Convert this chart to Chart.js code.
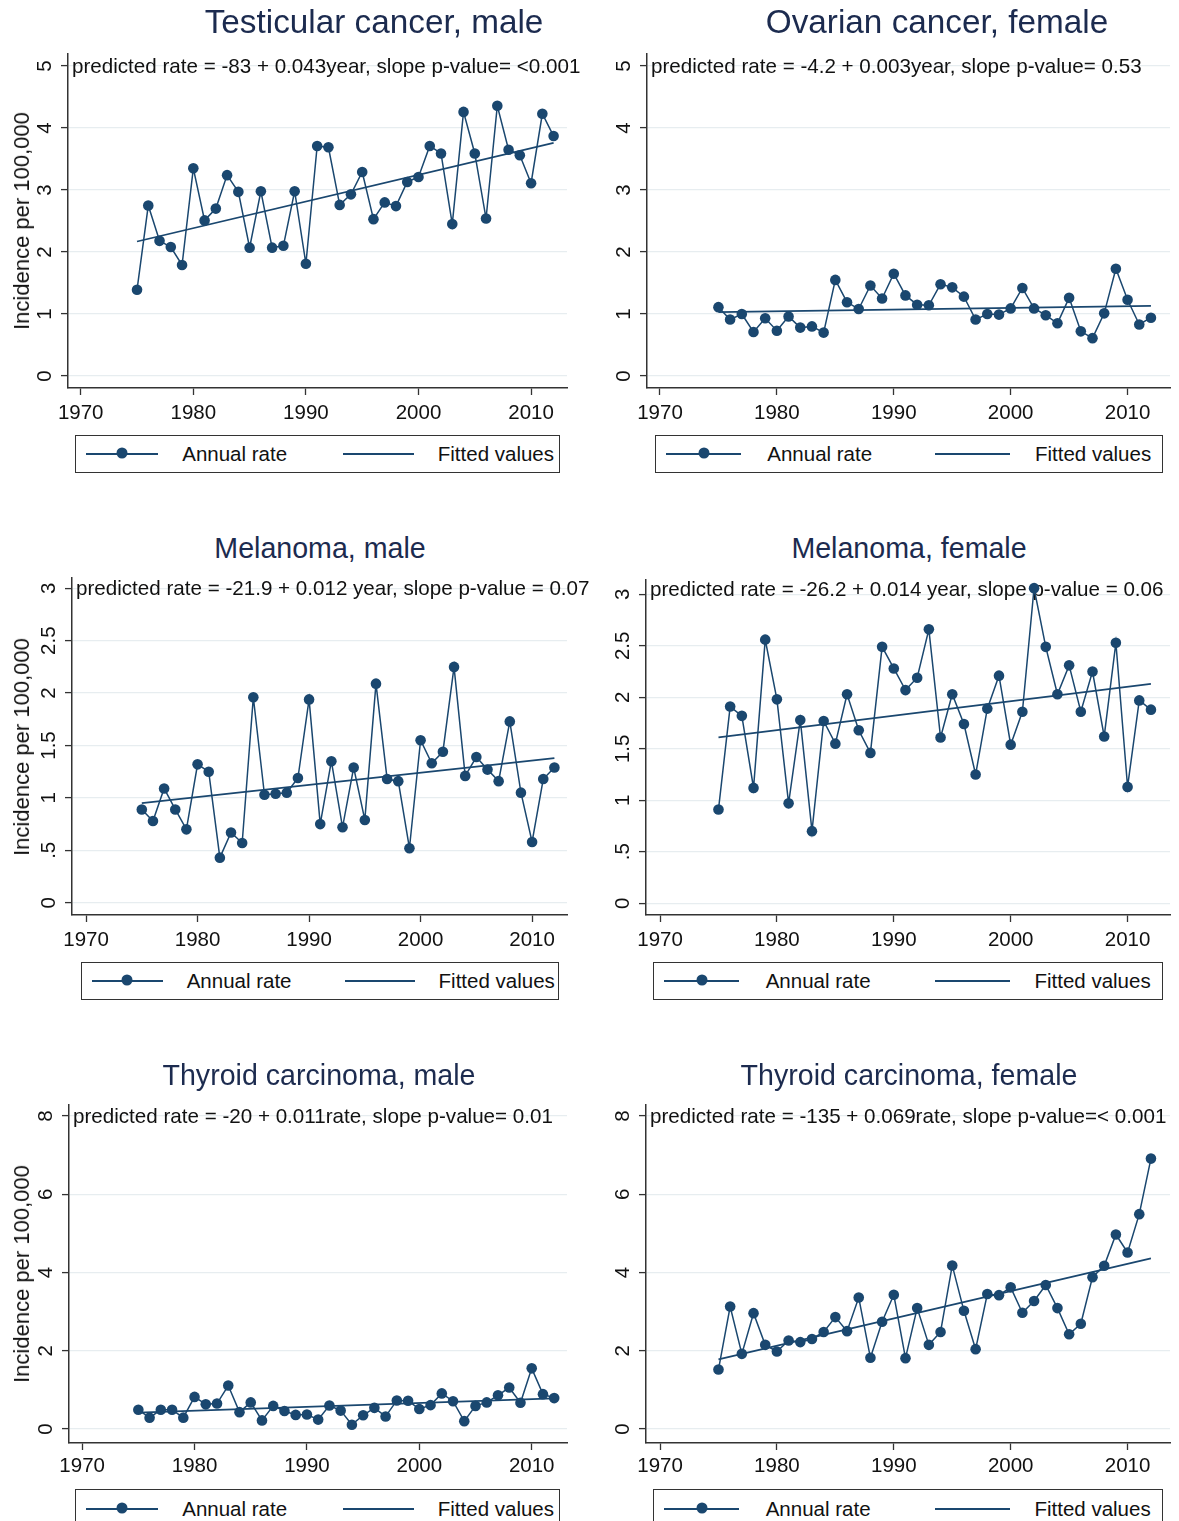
<!DOCTYPE html>
<html>
<head>
<meta charset="utf-8">
<script src="https://cdn.jsdelivr.net/npm/chart.js@4.4.1/dist/chart.umd.min.js"></script>
<style>
    html, body { margin: 0; padding: 0; background: #fff; width: 1179px; height: 1521px; overflow: hidden; }
    body { position: relative; font-family: "Liberation Sans", Arial, Helvetica, sans-serif; color: #111; }
    canvas { position: absolute; }
    .title { position: absolute; color: #1c2b4f; white-space: nowrap; transform: translate(-50%, -50%); }
    .ytitle { position: absolute; font-size: 22px; white-space: nowrap; transform: translate(-50%, -50%) rotate(-90deg); }
    .legend { position: absolute; box-sizing: border-box; border: 1.3px solid #333; background: #fff; }
    .legend .line { position: absolute; height: 2px; background: #1a476f; }
    .legend .dot { position: absolute; top: 50%; width: 11px; height: 11px; border-radius: 50%; background: #1a476f; transform: translate(-50%, -50%); }
    .legend .label { position: absolute; top: 50%; font-size: 20.5px; white-space: nowrap; transform: translateY(-50%); }
</style>
</head>
<body>
<script>
const years = [1975, 1976, 1977, 1978, 1979, 1980, 1981, 1982, 1983, 1984,
               1985, 1986, 1987, 1988, 1989, 1990, 1991, 1992, 1993, 1994,
               1995, 1996, 1997, 1998, 1999, 2000, 2001, 2002, 2003, 2004,
               2005, 2006, 2007, 2008, 2009, 2010, 2011, 2012];
const fitYears = [1975, 2012];

const testicularMale = [1.39, 2.75, 2.18, 2.08, 1.79, 3.35, 2.51, 2.70, 3.24, 2.97,
                        2.07, 2.98, 2.07, 2.10, 2.98, 1.81, 3.71, 3.69, 2.76, 2.93,
                        3.29, 2.53, 2.80, 2.74, 3.13, 3.21, 3.71, 3.59, 2.45, 4.26,
                        3.59, 2.54, 4.36, 3.65, 3.56, 3.11, 4.23, 3.87];
const ovarianFemale = [1.11, 0.91, 1.00, 0.71, 0.93, 0.73, 0.96, 0.78, 0.80, 0.70,
                       1.55, 1.19, 1.08, 1.46, 1.25, 1.65, 1.30, 1.15, 1.14, 1.48,
                       1.43, 1.28, 0.91, 1.00, 0.99, 1.09, 1.42, 1.09, 0.98, 0.85,
                       1.26, 0.72, 0.61, 1.01, 1.73, 1.23, 0.83, 0.94];
const melanomaMale = [0.89, 0.78, 1.09, 0.89, 0.70, 1.32, 1.25, 0.43, 0.67, 0.57,
                      1.96, 1.03, 1.04, 1.05, 1.19, 1.94, 0.75, 1.35, 0.72, 1.29,
                      0.79, 2.09, 1.18, 1.16, 0.52, 1.55, 1.33, 1.44, 2.25, 1.21,
                      1.39, 1.27, 1.16, 1.73, 1.05, 0.58, 1.18, 1.29];
const melanomaFemale = [0.91, 1.91, 1.82, 1.12, 2.56, 1.98, 0.97, 1.78, 0.70, 1.77,
                        1.55, 2.03, 1.68, 1.46, 2.49, 2.28, 2.07, 2.19, 2.66, 1.61,
                        2.03, 1.74, 1.25, 1.89, 2.21, 1.54, 1.86, 3.06, 2.49, 2.03,
                        2.31, 1.86, 2.25, 1.62, 2.53, 1.13, 1.97, 1.88];
const thyroidMale = [0.49, 0.29, 0.49, 0.49, 0.29, 0.82, 0.63, 0.65, 1.11, 0.43,
                     0.68, 0.22, 0.59, 0.46, 0.36, 0.37, 0.24, 0.60, 0.47, 0.11,
                     0.35, 0.54, 0.32, 0.73, 0.72, 0.51, 0.61, 0.91, 0.71, 0.20,
                     0.59, 0.68, 0.86, 1.06, 0.67, 1.55, 0.89, 0.79];
const thyroidFemale = [1.52, 3.13, 1.92, 2.96, 2.15, 1.98, 2.26, 2.22, 2.30, 2.48,
                       2.86, 2.50, 3.36, 1.82, 2.74, 3.43, 1.81, 3.09, 2.15, 2.48,
                       4.18, 3.02, 2.04, 3.45, 3.42, 3.62, 2.97, 3.27, 3.68, 3.09,
                       2.42, 2.69, 3.88, 4.17, 4.97, 4.51, 5.49, 6.91];

// fitted line, value at 1975 and at 2012
const testicularFit = [2.17, 3.76];
const ovarianFit = [1.03, 1.13];
const melanomaMaleFit = [0.95, 1.38];
const melanomaFemaleFit = [1.61, 2.13];
const thyroidMaleFit = [0.42, 0.78];
const thyroidFemaleFit = [1.78, 4.36];

const xTicks = [1970, 1980, 1990, 2000, 2010];
const xTickLabels = ['1970', '1980', '1990', '2000', '2010'];
const yTicksA = [0, 1, 2, 3, 4, 5];
const yTickLabelsA = ['0', '1', '2', '3', '4', '5'];
const yTicksB = [0, 0.5, 1, 1.5, 2, 2.5, 3];
const yTickLabelsB = ['0', '.5', '1', '1.5', '2', '2.5', '3'];
const yTicksC = [0, 2, 4, 6, 8];
const yTickLabelsC = ['0', '2', '4', '6', '8'];

const titles = ['Testicular cancer, male', 'Ovarian cancer, female', 'Melanoma, male',
                'Melanoma, female', 'Thyroid carcinoma, male', 'Thyroid carcinoma, female'];
const equations = [
    'predicted rate = -83 + 0.043year, slope p-value= <0.001',
    'predicted rate = -4.2 + 0.003year, slope p-value= 0.53',
    'predicted rate = -21.9 + 0.012 year, slope p-value = 0.07',
    'predicted rate = -26.2 + 0.014 year, slope p-value = 0.06',
    'predicted rate = -20 + 0.011rate, slope p-value= 0.01',
    'predicted rate = -135 + 0.069rate, slope p-value=< 0.001',
];
const legendLabels = ['Annual rate', 'Fitted values'];
const yAxisTitle = 'Incidence per 100,000';

const NAVY = '#1a476f';
const GRID = '#e7edf0';
const AXIS = '#333';
const FONT = '"Liberation Sans", Arial, Helvetica, sans-serif';

Chart.defaults.font.family = FONT;

const panels = [
    { series: testicularMale, fit: testicularFit, yt: yTicksA, yl: yTickLabelsA,
      canvas: { left: 0, top: 40, width: 600, height: 390 }, plot: { left: 68, top: 54, right: 567, bottom: 388 },
      x: [1968.87, 2013.19], y: [-0.194, 5.194], pad: 6, textDy: 1, title: { x: 374, y: 22, size: 33.3 },
      legend: { left: 75, top: 435, width: 485, height: 38 }, ytitle: true },
    { series: ovarianFemale, fit: ovarianFit, yt: yTicksA, yl: yTickLabelsA,
      canvas: { left: 590, top: 40, width: 589, height: 390 }, plot: { left: 647, top: 54, right: 1170, bottom: 388 },
      x: [1968.89, 2013.63], y: [-0.194, 5.194], pad: 6, textDy: 1, title: { x: 937, y: 22, size: 33.3 },
      legend: { left: 655, top: 435, width: 508, height: 38 }, ytitle: false },
    { series: melanomaMale, fit: melanomaMaleFit, yt: yTicksB, yl: yTickLabelsB,
      canvas: { left: 0, top: 565, width: 600, height: 392 }, plot: { left: 72, top: 578, right: 567, bottom: 915 },
      x: [1968.74, 2013.13], y: [-0.117, 3.098], pad: 6, textDy: 1, title: { x: 320, y: 548, size: 28.6 },
      legend: { left: 81, top: 962, width: 478, height: 38 }, ytitle: true },
    { series: melanomaFemale, fit: melanomaFemaleFit, yt: yTicksB, yl: yTickLabelsB,
      canvas: { left: 590, top: 565, width: 589, height: 392 }, plot: { left: 646, top: 580, right: 1170, bottom: 915 },
      x: [1968.80, 2013.63], y: [-0.114, 3.139], pad: 6, textDy: -4, title: { x: 909, y: 548, size: 28.6 },
      legend: { left: 653, top: 962, width: 510, height: 38 }, ytitle: false },
    { series: thyroidMale, fit: thyroidMaleFit, yt: yTicksC, yl: yTickLabelsC,
      canvas: { left: 0, top: 1090, width: 600, height: 395 }, plot: { left: 69, top: 1105, right: 567, bottom: 1443 },
      x: [1968.83, 2013.14], y: [-0.358, 8.28], pad: 4, textDy: 1, title: { x: 319, y: 1075, size: 28.6 },
      legend: { left: 75, top: 1489, width: 485, height: 40 }, ytitle: true },
    { series: thyroidFemale, fit: thyroidFemaleFit, yt: yTicksC, yl: yTickLabelsC,
      canvas: { left: 590, top: 1090, width: 589, height: 395 }, plot: { left: 646, top: 1105, right: 1170, bottom: 1443 },
      x: [1968.80, 2013.63], y: [-0.358, 8.28], pad: 4, textDy: 1, title: { x: 909, y: 1075, size: 28.6 },
      legend: { left: 653, top: 1489, width: 510, height: 40 }, ytitle: false },
];

// equation text and the rotated y tick labels, Stata style
const stataText = {
    id: 'stataText',
    beforeDatasetsDraw(chart, args, opts) {
        const { ctx, chartArea, scales: { y } } = chart;
        ctx.save();
        ctx.fillStyle = '#111';
        ctx.font = '20.6px ' + FONT;
        ctx.textBaseline = 'middle';
        ctx.textAlign = 'left';
        ctx.fillText(opts.equation, chartArea.left + 4, y.getPixelForValue(opts.topValue) + opts.dy);

        ctx.font = '20.5px ' + FONT;
        ctx.textAlign = 'center';
        y.ticks.forEach((t, i) => {
            ctx.save();
            ctx.translate(chartArea.left - 23, y.getPixelForValue(t.value));
            ctx.rotate(-Math.PI / 2);
            ctx.fillText(opts.yLabels[i], 0, 0);
            ctx.restore();
        });
        ctx.restore();
    },
};

function addDiv(cls, text, style) {
    const el = document.createElement('div');
    el.className = cls;
    if (text) el.textContent = text;
    Object.assign(el.style, style);
    document.body.appendChild(el);
    return el;
}

function addLegend(box) {
    const el = addDiv('legend', '', {
        left: box.left + 'px', top: box.top + 'px', width: box.width + 'px', height: box.height + 'px',
    });
    const w = box.width;
    const lineTop = Math.round(box.height / 2 - 2) + 'px';
    const part = (cls, text, style) => {
        const p = document.createElement('div');
        p.className = cls;
        if (text) p.textContent = text;
        Object.assign(p.style, style);
        el.appendChild(p);
    };
    part('line', '', { left: Math.round(0.02 * w) + 'px', width: Math.round(0.148 * w) + 'px', top: lineTop });
    part('dot', '', { left: (0.094 * w) + 'px', marginTop: '-1px' });
    part('label', legendLabels[0], { left: (0.219 * w) + 'px' });
    part('line', '', { left: Math.round(0.55 * w) + 'px', width: Math.round(0.147 * w) + 'px', top: lineTop });
    part('label', legendLabels[1], { left: (0.746 * w) + 'px' });
}

panels.forEach((p, idx) => {
    const c = p.canvas;
    const cv = document.createElement('canvas');
    cv.width = c.width;
    cv.height = c.height;
    cv.style.left = c.left + 'px';
    cv.style.top = c.top + 'px';
    document.body.appendChild(cv);

    new Chart(cv, {
        type: 'scatter',
        data: {
            datasets: [
                {
                    label: legendLabels[0],
                    data: years.map((yr, i) => ({ x: yr, y: p.series[i] })),
                    showLine: true,
                    borderColor: NAVY,
                    borderWidth: 1.5,
                    backgroundColor: NAVY,
                    pointBackgroundColor: NAVY,
                    pointBorderWidth: 0,
                    pointRadius: 5.3,
                },
                {
                    label: legendLabels[1],
                    data: fitYears.map((yr, i) => ({ x: yr, y: p.fit[i] })),
                    showLine: true,
                    borderColor: NAVY,
                    borderWidth: 1.7,
                    pointRadius: 0,
                },
            ],
        },
        options: {
            responsive: false,
            animation: false,
            events: [],
            layout: {
                padding: { left: 0, top: p.plot.top - c.top, right: c.left + c.width - p.plot.right, bottom: 0 },
            },
            plugins: {
                legend: { display: false },
                tooltip: { enabled: false },
                stataText: { equation: equations[idx], yLabels: p.yl, topValue: p.yt[p.yt.length - 1], dy: p.textDy },
            },
            scales: {
                x: {
                    type: 'linear', position: 'bottom', min: p.x[0], max: p.x[1],
                    afterBuildTicks: (s) => { s.ticks = xTicks.map((v) => ({ value: v })); },
                    afterFit: (s) => { s.height = c.top + c.height - p.plot.bottom; },
                    ticks: { autoSkip: false, maxRotation: 0, padding: p.pad, color: '#111', font: { size: 20.5 },
                             callback: (v, i) => xTickLabels[i] },
                    grid: { drawOnChartArea: false, tickLength: 7, tickColor: AXIS, tickWidth: 1.3 },
                    border: { display: true, color: AXIS, width: 1.5 },
                },
                y: {
                    type: 'linear', position: 'left', min: p.y[0], max: p.y[1],
                    afterBuildTicks: (s) => { s.ticks = p.yt.map((v) => ({ value: v })); },
                    afterFit: (s) => { s.width = p.plot.left - c.left; },
                    ticks: { display: false },
                    grid: { color: GRID, lineWidth: 1.2, tickLength: 7, tickColor: AXIS, tickWidth: 1.3 },
                    border: { display: true, color: AXIS, width: 1.5 },
                },
            },
        },
        plugins: [stataText],
    });

    addDiv('title', titles[idx], { left: p.title.x + 'px', top: p.title.y + 'px', fontSize: p.title.size + 'px' });
    if (p.ytitle) {
        addDiv('ytitle', yAxisTitle, { left: '22px', top: ((p.plot.top + p.plot.bottom) / 2) + 'px' });
    }
    addLegend(p.legend);
});
</script>
</body>
</html>
